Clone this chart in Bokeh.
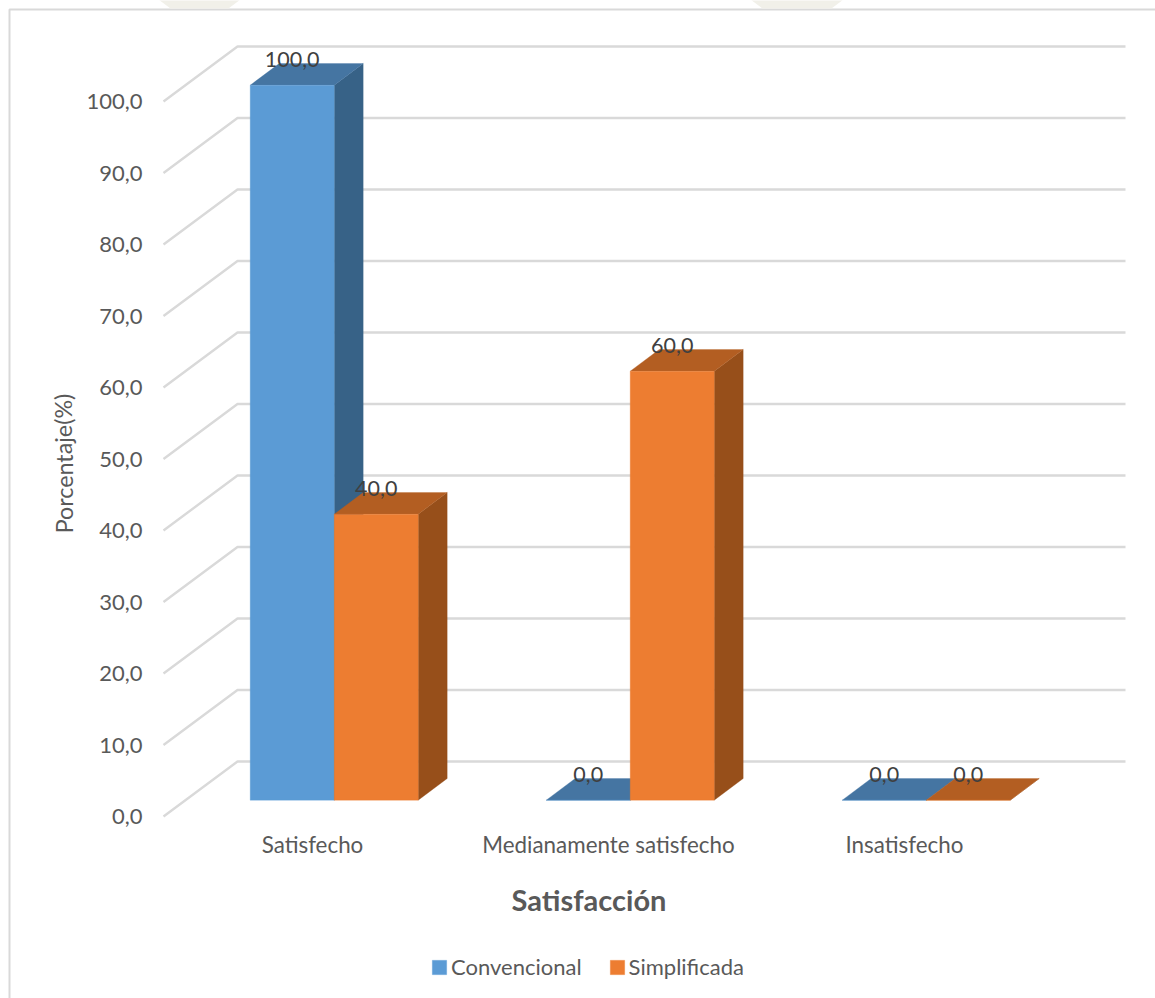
from bokeh.embed import file_html
from bokeh.models import (BoxAnnotation, ColumnDataSource, FixedTicker, Label,
                          Legend, LegendItem, Range1d)
from bokeh.plotting import figure
from bokeh.resources import INLINE
from bokeh.core.properties import value as fixed

# Survey results, percent of respondents per satisfaction level
categories = ["Satisfecho", "Medianamente satisfecho", "Insatisfecho"]
convencional = [100.0, 0.0, 0.0]
simplificada = [40.0, 60.0, 0.0]
y_ticks = [0, 10, 20, 30, 40, 50, 60, 70, 80, 90, 100]
y_tick_labels = ["0,0", "10,0", "20,0", "30,0", "40,0", "50,0", "60,0", "70,0", "80,0", "90,0", "100,0"]
series_names = ["Convencional", "Simplificada"]

FONT = "Lato"
TICK_COLOR = "#595959"
LABEL_COLOR = "#404040"
GRID_COLOR = "#D9D9D9"
FRAME_COLOR = "#D9D9D9"
SEAL_COLOR = "#F1F0E9"
FRONT = ["#5B9BD5", "#ED7D31"]
TOP = ["#4575A2", "#B35E22"]
SIDE = ["#376287", "#974F1A"]

# The frame fills the page; axes sit at fixed locations inside it
W, H = 1155, 998
AXIS_X_PX, AXIS_Y_PX = 160, 816
PX_PER_UNIT_Y = 7.15
PX_PER_CAT = 296.0
CAT0_PX = 312.0


def xd(px):
    return (px - CAT0_PX) / PX_PER_CAT


def yd(py):
    return (AXIS_Y_PX - py) / PX_PER_UNIT_Y


def dx(px):
    return px / PX_PER_CAT


def dy(px):
    return px / PX_PER_UNIT_Y


p = figure(width=W, height=H, output_backend="svg", toolbar_location=None,
           x_range=Range1d(xd(0), xd(W)), y_range=Range1d(yd(H), yd(0)),
           min_border=0, outline_line_color=None)
p.grid.visible = False

# Axes carry only their labels; the walls below stand in for axis lines
p.yaxis.ticker = FixedTicker(ticks=y_ticks)
p.yaxis.major_label_overrides = dict(zip(y_ticks, y_tick_labels))
p.xaxis.ticker = FixedTicker(ticks=list(range(len(categories))))
p.xaxis.major_label_overrides = dict(enumerate(categories))
p.yaxis.fixed_location = xd(AXIS_X_PX)
p.xaxis.fixed_location = yd(AXIS_Y_PX)
for ax in (p.xaxis[0], p.yaxis[0]):
    ax.axis_line_color = None
    ax.major_tick_line_color = None
    ax.minor_tick_line_color = None
    ax.major_label_text_font = FONT
    ax.major_label_text_color = TICK_COLOR
p.yaxis.major_label_text_font_size = "22px"
p.xaxis.major_label_text_font_size = "22.4px"
p.yaxis.major_label_standoff = 12
p.xaxis.major_label_standoff = 8

# Edges of the page seal that show above the chart area
for seal_left, seal_right in ((158, 240), (750, 843)):
    p.patch([xd(seal_left), xd(seal_right), xd(seal_right - 12), xd(seal_left + 12)],
            [yd(-1), yd(-1), yd(8), yd(8)],
            fill_color=SEAL_COLOR, line_color=None)

# Chart area border, running off the page on the right and bottom
p.add_layout(BoxAnnotation(left=xd(9), right=xd(W + 20), top=yd(9), bottom=yd(H + 20),
                           fill_color=None, line_color=FRAME_COLOR, line_alpha=1.0,
                           line_width=2, level="underlay"))

# Back wall and side wall gridlines
WALL_DX, WALL_DY = 74, 55
wall_xs, wall_ys = [], []
for t in y_ticks:
    wall_xs.append([xd(163), xd(163 + WALL_DX), xd(1125)])
    wall_ys.append([t, t + dy(WALL_DY), t + dy(WALL_DY)])
p.multi_line(wall_xs, wall_ys, line_color=GRID_COLOR, line_width=2.4)

# Extruded bars: each has a front rectangle, a top and a right side face
BAR_W = 84.0
DEPTH_X, DEPTH_Y = 29, 21.7
FLOOR_LIFT = 16.3
GROUP_SHIFT = 21.7
legend_handles = []
for s, values in enumerate([convencional, simplificada]):
    for c, v in enumerate(values):
        left = c + dx(GROUP_SHIFT + (s - 1) * BAR_W)
        right = left + dx(BAR_W)
        base = dy(FLOOR_LIFT)
        top = v + base
        ox, oy = dx(DEPTH_X), dy(DEPTH_Y)
        p.patch([right, right + ox, right + ox, right], [base, base + oy, top + oy, top],
                fill_color=SIDE[s], line_color=SIDE[s], line_width=0.3)
        p.patch([left, right, right + ox, left + ox], [top, top, top + oy, top + oy],
                fill_color=TOP[s], line_color=TOP[s], line_width=0.3)
    src = ColumnDataSource(dict(
        x=[c + dx(GROUP_SHIFT + (s - 0.5) * BAR_W) for c in range(len(values))],
        bottom=[dy(FLOOR_LIFT)] * len(values),
        top=[v + dy(FLOOR_LIFT) for v in values]))
    r = p.vbar(x="x", bottom="bottom", top="top", width=dx(BAR_W), source=src,
               fill_color=FRONT[s], line_color=FRONT[s], line_width=0.3)
    legend_handles.append(r)

# Value labels above each bar
for s, values in enumerate([convencional, simplificada]):
    for c, v in enumerate(values):
        cx = c + dx(GROUP_SHIFT + (s - 0.5) * BAR_W)
        lift = dy(FLOOR_LIFT) + dy(26)
        p.text([cx], [v + lift], text=[f"{v:.1f}".replace(".", ",")],
               text_font=fixed(FONT), text_font_size="21.5px", text_color=LABEL_COLOR,
               text_align="center", text_baseline="middle")

# Axis titles, placed off-centre from the frame
p.add_layout(Label(x=xd(63), y=yd(463), text="Porcentaje(%)", angle=1.5708, angle_units="rad",
                   text_font=FONT, text_font_size="23.3px", text_color=TICK_COLOR,
                   text_align="center", text_baseline="middle"))
p.add_layout(Label(x=xd(588.5), y=yd(899), text="Satisfacción",
                   text_font=FONT, text_font_size="29px", text_font_style="bold",
                   text_color=TICK_COLOR, text_align="center", text_baseline="middle"))

legend = Legend(items=[LegendItem(label=n, renderers=[r]) for n, r in zip(series_names, legend_handles)],
                orientation="horizontal", location=(430, H - 980),
                border_line_color=None, background_fill_color=None,
                label_text_font=FONT, label_text_font_size="22px", label_text_color=TICK_COLOR,
                glyph_width=18, glyph_height=18, label_standoff=3, spacing=26, padding=0, margin=0)
p.add_layout(legend, "center")

open("out.html", "w").write(file_html(p, INLINE))
